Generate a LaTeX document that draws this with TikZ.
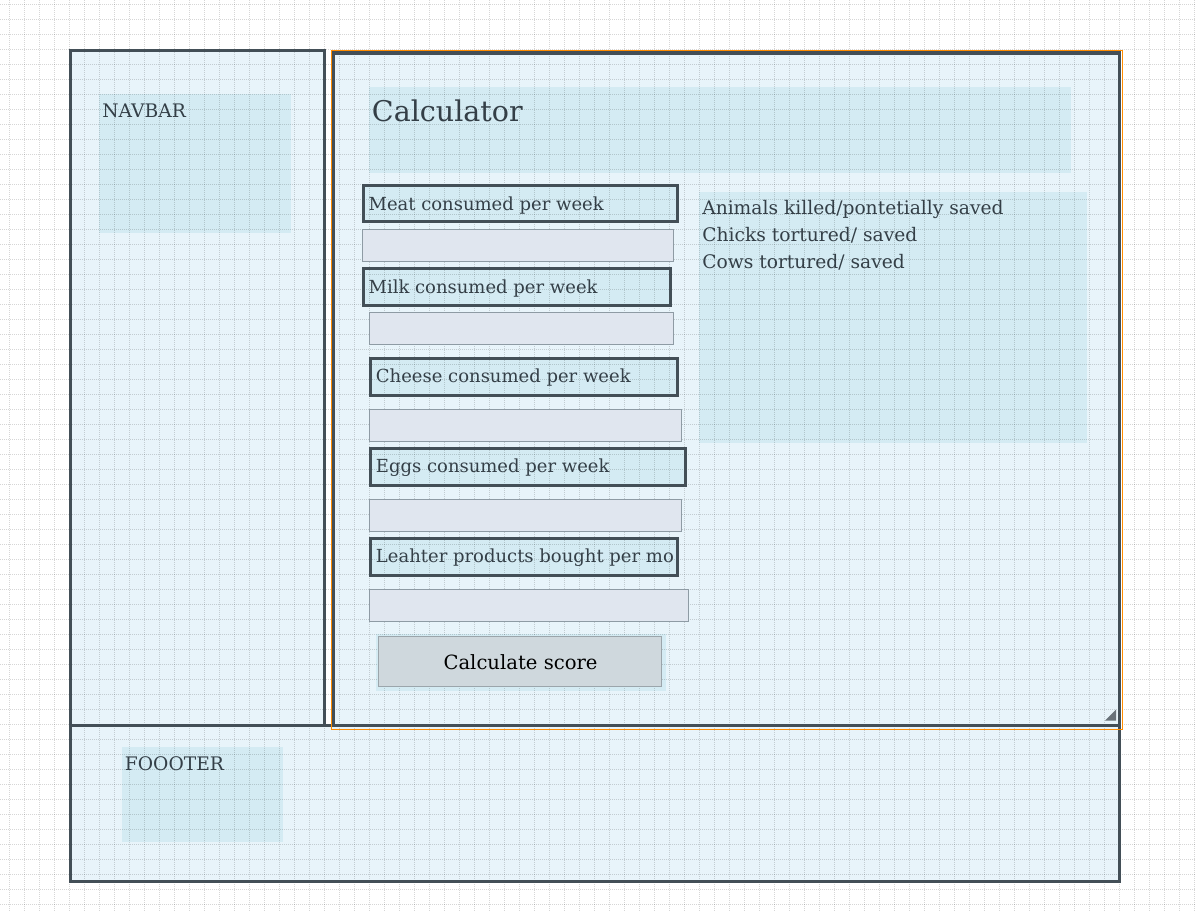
\documentclass[tikz,border=0pt]{standalone}
\usepackage{fontspec}
\setmainfont{DejaVu Serif}
\definecolor{boxfill}{HTML}{E8F4FA}
\definecolor{panelfill}{HTML}{D4EBF3}
\definecolor{boxline}{HTML}{434F57}
\definecolor{inputfill}{HTML}{E0E6EF}
\definecolor{inputline}{HTML}{8E9BA4}
\definecolor{buttonfill}{HTML}{CFD8DD}
\definecolor{buttonline}{HTML}{9BA5AB}
\definecolor{selorange}{HTML}{FF8C00}
\definecolor{textgray}{HTML}{343F47}
\newcommand{\labelfont}{\fontsize{13.5}{16}\selectfont}
\newcommand{\panelfont}{\fontsize{14}{17}\selectfont}

\begin{document}
\begin{tikzpicture}[x=0.75pt,y=-0.75pt,
    gridline/.style={draw=black,opacity=0.16,line width=0.75pt,dash pattern=on 0.75pt off 0.75pt},
    frame/.style={draw=boxline,line width=2.5pt},
    inputbox/.style={fill=inputfill,draw=inputline,line width=0.75pt},
    txt/.style={anchor=base west,inner sep=0pt,text=textgray,font=\labelfont}]
      \useasboundingbox (0,0) rectangle (1195,911);
      \fill[white] (0,0) rectangle (1195,911);
      % page areas
      \fill[boxfill] (70,50) rectangle (325,725);
      \fill[boxfill] (333,52) rectangle (1120,726);
      \fill[boxfill] (70,725) rectangle (1120,882);
      \fill[panelfill] (99,94) rectangle (291,233);
      \fill[panelfill] (369,87) rectangle (1071,173);
      \fill[panelfill] (699,192) rectangle (1087,443);
      \fill[panelfill] (122,747) rectangle (283,842);
      \fill[panelfill] (376,634) rectangle (666,691);
      % label boxes
      \fill[panelfill] (363.5,185.8) rectangle (677.5,221.8);
      \fill[panelfill] (363.5,268.8) rectangle (670.5,305.2);
      \fill[panelfill] (370.5,358.8) rectangle (677.8,395.2);
      \fill[panelfill] (370.5,448.8) rectangle (685.8,485.2);
      \fill[panelfill] (370.5,538.8) rectangle (677.5,575.2);
      % grid
      \foreach \gx in {9,24,...,1194}
        \draw[gridline] (\gx,0) -- (\gx,911);
      \foreach \gy in {4,19,...,910}
        \draw[gridline] (0,\gy) -- (1195,\gy);
      % input fields and button
      \draw[inputbox] (362.5,229.5) rectangle (673.3,261.5);
      \draw[inputbox] (369.5,312) rectangle (673.3,344.5);
      \draw[inputbox] (369.5,409.3) rectangle (681,441.3);
      \draw[inputbox] (369.5,499.3) rectangle (681.7,531.3);
      \draw[inputbox] (369.5,589.3) rectangle (688.3,621.8);
      \draw[fill=buttonfill,draw=buttonline,line width=0.75pt] (378.5,636) rectangle (661.5,686.5);
      % borders
      \draw[frame] (70.7,50.8) rectangle (324.8,725.5);
      \draw[frame] (333.8,53) rectangle (1119.7,725.5);
      \draw[frame] (70.7,725.5) rectangle (1119.8,881.7);
      \draw[frame] (363.5,185.8) rectangle (677.5,221.8);
      \draw[frame] (363.5,268.8) rectangle (670.5,305.2);
      \draw[frame] (370.5,358.8) rectangle (677.8,395.2);
      \draw[frame] (370.5,448.8) rectangle (685.8,485.2);
      \draw[frame] (370.5,538.8) rectangle (677.5,575.2);
      \draw[selorange,line width=1pt] (331.3,50.3) rectangle (1122.5,729.7);
      \fill[boxline!80] (1105,720.5) -- (1116,709.5) -- (1116,720.5) -- cycle;
      % texts
      \node[txt,font=\panelfont] (navbar) at (102,117.3) {NAVBAR};
      \node[txt,font=\panelfont] (footer) at (124.7,770) {FOOOTER};
      \node[txt,font=\fontsize{21.4}{26}\selectfont] (title) at (371.7,121) {Calculator};
      \node[txt] (meat) at (368.3,210.7) {Meat consumed per week};
      \node[txt] (milk) at (368.3,293.3) {Milk consumed per week};
      \node[txt] (cheese) at (375.7,382.7) {Cheese consumed per week};
      \node[txt] (eggs) at (375.7,472.7) {Eggs consumed per week};
      \begin{scope}
        \clip (372,540) rectangle (676,574);
        \node[txt] (leather) at (375.7,562.7) {Leahter products bought per mo};
      \end{scope}
      \node[txt,font=\panelfont] (killed) at (702,214.3) {Animals killed/pontetially saved};
      \node[txt,font=\panelfont] (chicks) at (702,241.7) {Chicks tortured/ saved};
      \node[txt,font=\panelfont] (cows) at (702,268.3) {Cows tortured/ saved};
      \node[txt,text=black,font=\fontsize{14.7}{18}\selectfont] (calc) at (443.3,669) {Calculate score};
    \end{tikzpicture}
\end{document}
